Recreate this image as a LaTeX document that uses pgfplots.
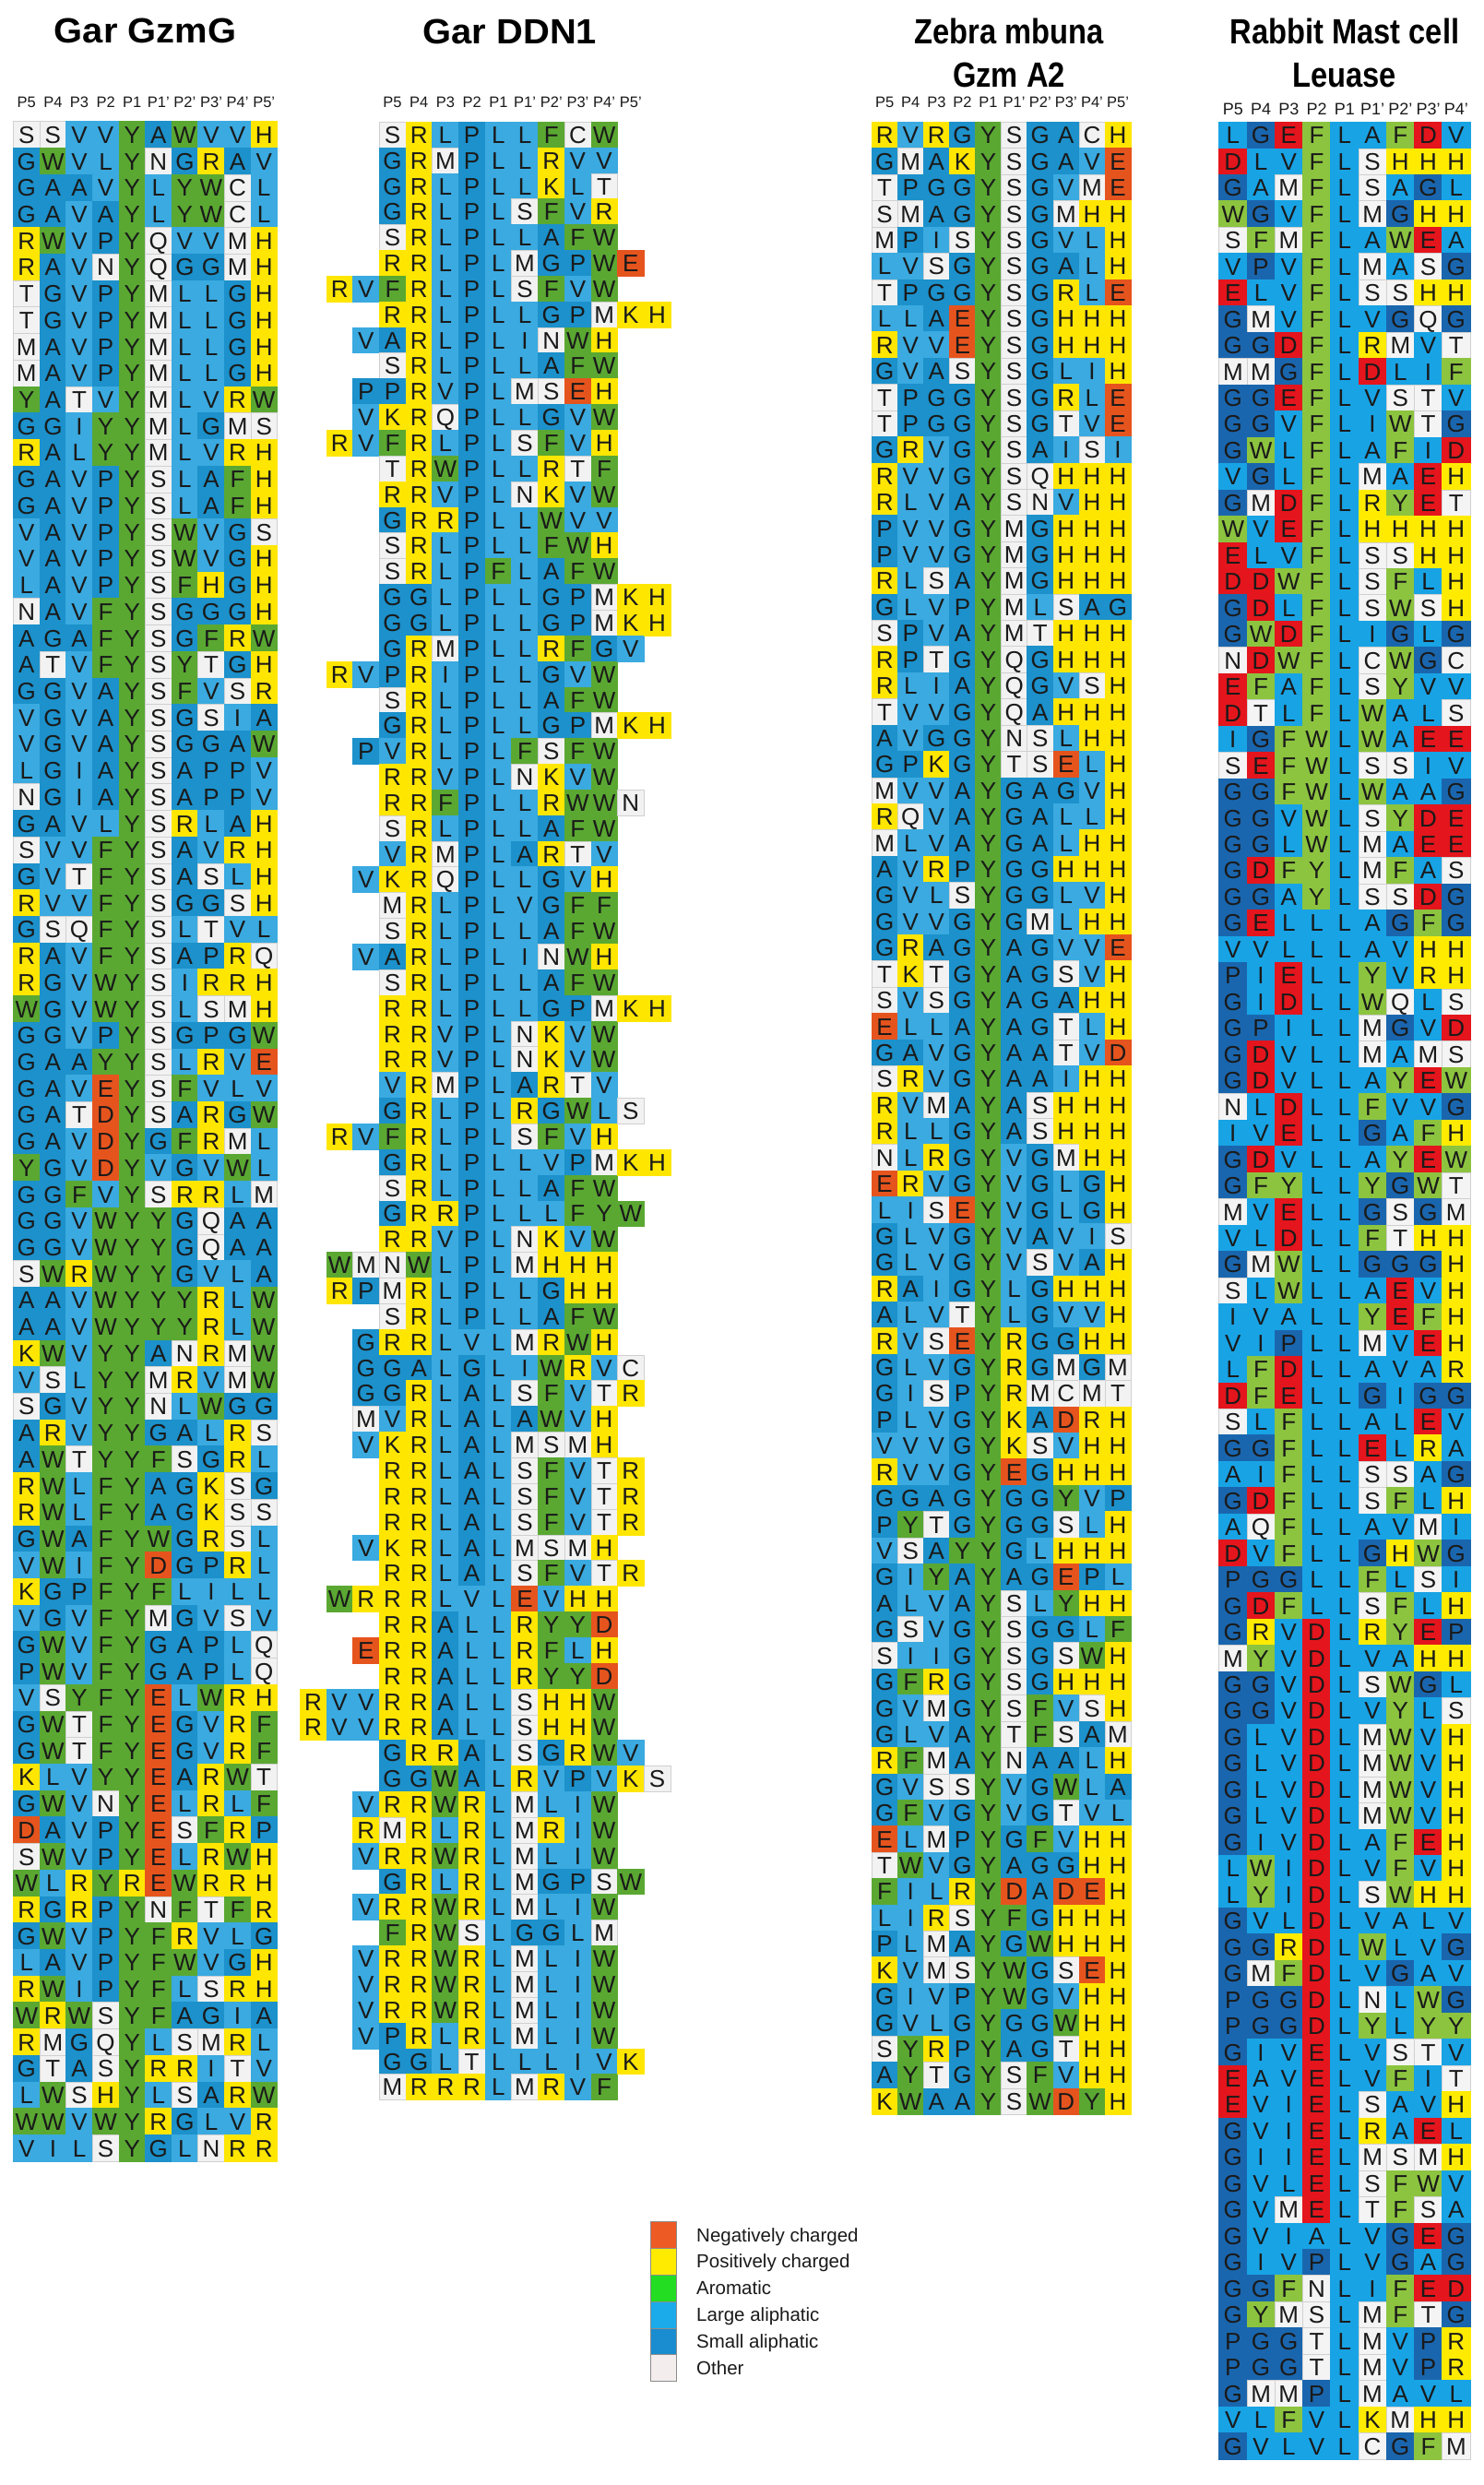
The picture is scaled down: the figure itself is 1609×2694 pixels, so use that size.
\documentclass[border=0pt]{standalone}
\usepackage{pgfplots}
\pgfplotsset{compat=1.18}
\usepackage{pgfplotstable}
\usepackage{graphicx}
\usepackage{fontspec}
\setmainfont{Liberation Sans}

\definecolor{Aneg}{HTML}{E6541E}
\definecolor{Apos}{HTML}{FFE600}
\definecolor{Aaro}{HTML}{5AA832}
\definecolor{Alar}{HTML}{3AAAE0}
\definecolor{Asma}{HTML}{1C91CB}
\definecolor{Aoth}{HTML}{F2F2F2}
\definecolor{Bneg}{HTML}{E4151C}
\definecolor{Bpos}{HTML}{FFEB00}
\definecolor{Baro}{HTML}{8CC43F}
\definecolor{Blar}{HTML}{18A3E5}
\definecolor{Bsma}{HTML}{1A66AE}
\definecolor{Both}{HTML}{F4F4F4}
\definecolor{cellbrd}{HTML}{D0D0D0}
\definecolor{txt}{HTML}{1A1A1A}
\definecolor{Lneg}{HTML}{EE5A24}
\definecolor{Lpos}{HTML}{FFEB00}
\definecolor{Laro}{HTML}{22DD22}
\definecolor{Llar}{HTML}{1CABEA}
\definecolor{Lsma}{HTML}{1A8DD0}
\definecolor{Loth}{HTML}{F3EDED}
\definecolor{Lbrd}{HTML}{8C8C8C}

\pgfdeclareplotmark{cellA}{\pgfpathrectangle{\pgfpoint{-14.3pt}{-14.36pt}}{\pgfpoint{28.6pt}{28.72pt}}\pgfusepathqfillstroke}
\pgfdeclareplotmark{cellB}{\pgfpathrectangle{\pgfpoint{-14.35pt}{-13.925pt}}{\pgfpoint{28.7pt}{27.85pt}}\pgfusepathqfillstroke}
\pgfdeclareplotmark{cellC}{\pgfpathrectangle{\pgfpoint{-14.05pt}{-14.21pt}}{\pgfpoint{28.1pt}{28.42pt}}\pgfusepathqfillstroke}
\pgfdeclareplotmark{cellD}{\pgfpathrectangle{\pgfpoint{-15.125pt}{-14.235pt}}{\pgfpoint{30.25pt}{28.47pt}}\pgfusepathqfillstroke}
\pgfdeclareplotmark{cellL}{\pgfpathrectangle{\pgfpoint{-14.15pt}{-14.45pt}}{\pgfpoint{28.3pt}{28.9pt}}\pgfusepathqfillstroke}
\pgfdeclareplotmark{nomark}{}

\newcommand\cellfont{\fontsize{26}{30}\selectfont}
\newcommand\hdrfont{\fontsize{16.5}{20}\selectfont}
\newcommand\hdrfontD{\fontsize{18}{22}\selectfont}
\newcommand\titlefont{\fontsize{38}{47}\selectfont\bfseries}
\newcommand\legfont{\fontsize{20.5}{24}\selectfont}
\def\cellw{28.6pt}
\newcommand\cc[1]{\makebox[\cellw][c]{\if.#1\else#1\fi}}
\def\spreadi#1{\ifx#1\relax\else\cc{#1}\expandafter\spreadi\fi}
\newcommand\spread[1]{\edef\tmps{#1}\expandafter\spreadi\tmps\relax}

\pgfplotsset{
 aa/.style n args={3}{scatter, only marks, point meta=explicit symbolic, line width=0.5pt,
  scatter/classes={
  D={mark=#1,fill=#2neg,draw=#2neg},E={mark=#1,fill=#2neg,draw=#2neg},
  R={mark=#1,fill=#2pos,draw=#2pos},K={mark=#1,fill=#2pos,draw=#2pos},H={mark=#1,fill=#2pos,draw=#2pos},
  F={mark=#1,fill=#2aro,draw=#2aro},W={mark=#1,fill=#2aro,draw=#2aro},Y={mark=#1,fill=#2aro,draw=#2aro},
  L={mark=#1,fill=#2lar,draw=#2lar},I={mark=#1,fill=#2lar,draw=#2lar},V={mark=#1,fill=#2lar,draw=#2lar},
  A={mark=#1,fill=#3,draw=#3},
  G={mark=#1,fill=#2sma,draw=#2sma},P={mark=#1,fill=#2sma,draw=#2sma},
  S={mark=#1,fill=#2oth,draw=cellbrd},T={mark=#1,fill=#2oth,draw=cellbrd},N={mark=#1,fill=#2oth,draw=cellbrd},
  Q={mark=#1,fill=#2oth,draw=cellbrd},C={mark=#1,fill=#2oth,draw=cellbrd},M={mark=#1,fill=#2oth,draw=cellbrd},
  X={mark=none}}},
 letters/.style={only marks, mark=nomark, point meta=explicit symbolic,
  nodes near coords={\spread{\pgfplotspointmeta}},
  nodes near coords style={anchor=center, inner sep=0pt, font=\cellfont, text=txt, text height=18.6pt, text depth=0pt}},
 panel/.style={scale only axis, clip=false, enlargelimits=false,
  axis x line*=top, axis y line=none, x axis line style={draw=none},
  major tick length=0pt, ytick=\empty,
  xticklabel style={anchor=base, inner sep=0pt, yshift=15.5pt, font=\hdrfont, text=txt},
  every axis title shift=0pt,
  title style={at={(0.5,1)}, anchor=base, yshift=85pt, inner sep=0pt, font=\titlefont, text=black}},
}

\pgfplotstableread{
r c0 c1 c2 c3 c4 c5 c6 c7 c8 c9 s
1 S S V V Y A W V V H SSVVYAWVVH
2 G W V L Y N G R A V GWVLYNGRAV
3 G A A V Y L Y W C L GAAVYLYWCL
4 G A V A Y L Y W C L GAVAYLYWCL
5 R W V P Y Q V V M H RWVPYQVVMH
6 R A V N Y Q G G M H RAVNYQGGMH
7 T G V P Y M L L G H TGVPYMLLGH
8 T G V P Y M L L G H TGVPYMLLGH
9 M A V P Y M L L G H MAVPYMLLGH
10 M A V P Y M L L G H MAVPYMLLGH
11 Y A T V Y M L V R W YATVYMLVRW
12 G G I Y Y M L G M S GGIYYMLGMS
13 R A L Y Y M L V R H RALYYMLVRH
14 G A V P Y S L A F H GAVPYSLAFH
15 G A V P Y S L A F H GAVPYSLAFH
16 V A V P Y S W V G S VAVPYSWVGS
17 V A V P Y S W V G H VAVPYSWVGH
18 L A V P Y S F H G H LAVPYSFHGH
19 N A V F Y S G G G H NAVFYSGGGH
20 A G A F Y S G F R W AGAFYSGFRW
21 A T V F Y S Y T G H ATVFYSYTGH
22 G G V A Y S F V S R GGVAYSFVSR
23 V G V A Y S G S I A VGVAYSGSIA
24 V G V A Y S G G A W VGVAYSGGAW
25 L G I A Y S A P P V LGIAYSAPPV
26 N G I A Y S A P P V NGIAYSAPPV
27 G A V L Y S R L A H GAVLYSRLAH
28 S V V F Y S A V R H SVVFYSAVRH
29 G V T F Y S A S L H GVTFYSASLH
30 R V V F Y S G G S H RVVFYSGGSH
31 G S Q F Y S L T V L GSQFYSLTVL
32 R A V F Y S A P R Q RAVFYSAPRQ
33 R G V W Y S I R R H RGVWYSIRRH
34 W G V W Y S L S M H WGVWYSLSMH
35 G G V P Y S G P G W GGVPYSGPGW
36 G A A Y Y S L R V E GAAYYSLRVE
37 G A V E Y S F V L V GAVEYSFVLV
38 G A T D Y S A R G W GATDYSARGW
39 G A V D Y G F R M L GAVDYGFRML
40 Y G V D Y V G V W L YGVDYVGVWL
41 G G F V Y S R R L M GGFVYSRRLM
42 G G V W Y Y G Q A A GGVWYYGQAA
43 G G V W Y Y G Q A A GGVWYYGQAA
44 S W R W Y Y G V L A SWRWYYGVLA
45 A A V W Y Y Y R L W AAVWYYYRLW
46 A A V W Y Y Y R L W AAVWYYYRLW
47 K W V Y Y A N R M W KWVYYANRMW
48 V S L Y Y M R V M W VSLYYMRVMW
49 S G V Y Y N L W G G SGVYYNLWGG
50 A R V Y Y G A L R S ARVYYGALRS
51 A W T Y Y F S G R L AWTYYFSGRL
52 R W L F Y A G K S G RWLFYAGKSG
53 R W L F Y A G K S S RWLFYAGKSS
54 G W A F Y W G R S L GWAFYWGRSL
55 V W I F Y D G P R L VWIFYDGPRL
56 K G P F Y F L I L L KGPFYFLILL
57 V G V F Y M G V S V VGVFYMGVSV
58 G W V F Y G A P L Q GWVFYGAPLQ
59 P W V F Y G A P L Q PWVFYGAPLQ
60 V S Y F Y E L W R H VSYFYELWRH
61 G W T F Y E G V R F GWTFYEGVRF
62 G W T F Y E G V R F GWTFYEGVRF
63 K L V Y Y E A R W T KLVYYEARWT
64 G W V N Y E L R L F GWVNYELRLF
65 D A V P Y E S F R P DAVPYESFRP
66 S W V P Y E L R W H SWVPYELRWH
67 W L R Y R E W R R H WLRYREWRRH
68 R G R P Y N F T F R RGRPYNFTFR
69 G W V P Y F R V L G GWVPYFRVLG
70 L A V P Y F W V G H LAVPYFWVGH
71 R W I P Y F L S R H RWIPYFLSRH
72 W R W S Y F A G I A WRWSYFAGIA
73 R M G Q Y L S M R L RMGQYLSMRL
74 G T A S Y R R I T V GTASYRRITV
75 L W S H Y L S A R W LWSHYLSARW
76 W W V W Y R G L V R WWVWYRGLVR
77 V I L S Y G L N R R VILSYGLNRR
}\gzmg

\pgfplotstableread{
r a0 a1 a2 a3 a4 a5 a6 a7 a8 a9 a10 a11 a12 a13 s
1 X X X S R L P L L F C W X X ...SRLPLLFCW..
2 X X X G R M P L L R V V X X ...GRMPLLRVV..
3 X X X G R L P L L K L T X X ...GRLPLLKLT..
4 X X X G R L P L S F V R X X ...GRLPLSFVR..
5 X X X S R L P L L A F W X X ...SRLPLLAFW..
6 X X X R R L P L M G P W E X ...RRLPLMGPWE.
7 X R V F R L P L S F V W X X .RVFRLPLSFVW..
8 X X X R R L P L L G P M K H ...RRLPLLGPMKH
9 X X V A R L P L I N W H X X ..VARLPLINWH..
10 X X X S R L P L L A F W X X ...SRLPLLAFW..
11 X X P P R V P L M S E H X X ..PPRVPLMSEH..
12 X X V K R Q P L L G V W X X ..VKRQPLLGVW..
13 X R V F R L P L S F V H X X .RVFRLPLSFVH..
14 X X X T R W P L L R T F X X ...TRWPLLRTF..
15 X X X R R V P L N K V W X X ...RRVPLNKVW..
16 X X X G R R P L L W V V X X ...GRRPLLWVV..
17 X X X S R L P L L F W H X X ...SRLPLLFWH..
18 X X X S R L P F L A F W X X ...SRLPFLAFW..
19 X X X G G L P L L G P M K H ...GGLPLLGPMKH
20 X X X G G L P L L G P M K H ...GGLPLLGPMKH
21 X X X G R M P L L R F G V X ...GRMPLLRFGV.
22 X R V P R I P L L G V W X X .RVPRIPLLGVW..
23 X X X S R L P L L A F W X X ...SRLPLLAFW..
24 X X X G R L P L L G P M K H ...GRLPLLGPMKH
25 X X P V R L P L F S F W X X ..PVRLPLFSFW..
26 X X X R R V P L N K V W X X ...RRVPLNKVW..
27 X X X R R F P L L R W W N X ...RRFPLLRWWN.
28 X X X S R L P L L A F W X X ...SRLPLLAFW..
29 X X X V R M P L A R T V X X ...VRMPLARTV..
30 X X V K R Q P L L G V H X X ..VKRQPLLGVH..
31 X X X M R L P L V G F F X X ...MRLPLVGFF..
32 X X X S R L P L L A F W X X ...SRLPLLAFW..
33 X X V A R L P L I N W H X X ..VARLPLINWH..
34 X X X S R L P L L A F W X X ...SRLPLLAFW..
35 X X X R R L P L L G P M K H ...RRLPLLGPMKH
36 X X X R R V P L N K V W X X ...RRVPLNKVW..
37 X X X R R V P L N K V W X X ...RRVPLNKVW..
38 X X X V R M P L A R T V X X ...VRMPLARTV..
39 X X X G R L P L R G W L S X ...GRLPLRGWLS.
40 X R V F R L P L S F V H X X .RVFRLPLSFVH..
41 X X X G R L P L L V P M K H ...GRLPLLVPMKH
42 X X X S R L P L L A F W X X ...SRLPLLAFW..
43 X X X G R R P L L L F Y W X ...GRRPLLLFYW.
44 X X X R R V P L N K V W X X ...RRVPLNKVW..
45 X W M N W L P L M H H H X X .WMNWLPLMHHH..
46 X R P M R L P L L G H H X X .RPMRLPLLGHH..
47 X X X S R L P L L A F W X X ...SRLPLLAFW..
48 X X G R R L V L M R W H X X ..GRRLVLMRWH..
49 X X G G A L G L I W R V C X ..GGALGLIWRVC.
50 X X G G R L A L S F V T R X ..GGRLALSFVTR.
51 X X M V R L A L A W V H X X ..MVRLALAWVH..
52 X X V K R L A L M S M H X X ..VKRLALMSMH..
53 X X X R R L A L S F V T R X ...RRLALSFVTR.
54 X X X R R L A L S F V T R X ...RRLALSFVTR.
55 X X X R R L A L S F V T R X ...RRLALSFVTR.
56 X X V K R L A L M S M H X X ..VKRLALMSMH..
57 X X X R R L A L S F V T R X ...RRLALSFVTR.
58 X W R R R L V L E V H H X X .WRRRLVLEVHH..
59 X X X R R A L L R Y Y D X X ...RRALLRYYD..
60 X X E R R A L L R F L H X X ..ERRALLRFLH..
61 X X X R R A L L R Y Y D X X ...RRALLRYYD..
62 R V V R R A L L S H H W X X RVVRRALLSHHW..
63 R V V R R A L L S H H W X X RVVRRALLSHHW..
64 X X X G R R A L S G R W V X ...GRRALSGRWV.
65 X X X G G W A L R V P V K S ...GGWALRVPVKS
66 X X V R R W R L M L I W X X ..VRRWRLMLIW..
67 X X R M R L R L M R I W X X ..RMRLRLMRIW..
68 X X V R R W R L M L I W X X ..VRRWRLMLIW..
69 X X X G R L R L M G P S W X ...GRLRLMGPSW.
70 X X V R R W R L M L I W X X ..VRRWRLMLIW..
71 X X X F R W S L G G L M X X ...FRWSLGGLM..
72 X X V R R W R L M L I W X X ..VRRWRLMLIW..
73 X X V R R W R L M L I W X X ..VRRWRLMLIW..
74 X X V R R W R L M L I W X X ..VRRWRLMLIW..
75 X X V P R L R L M L I W X X ..VPRLRLMLIW..
76 X X X G G L T L L L I V K X ...GGLTLLLIVK.
77 X X X M R R R L M R V F X X ...MRRRLMRVF..
}\ddn

\pgfplotstableread{
r c0 c1 c2 c3 c4 c5 c6 c7 c8 c9 s
1 R V R G Y S G A C H RVRGYSGACH
2 G M A K Y S G A V E GMAKYSGAVE
3 T P G G Y S G V M E TPGGYSGVME
4 S M A G Y S G M H H SMAGYSGMHH
5 M P I S Y S G V L H MPISYSGVLH
6 L V S G Y S G A L H LVSGYSGALH
7 T P G G Y S G R L E TPGGYSGRLE
8 L L A E Y S G H H H LLAEYSGHHH
9 R V V E Y S G H H H RVVEYSGHHH
10 G V A S Y S G L I H GVASYSGLIH
11 T P G G Y S G R L E TPGGYSGRLE
12 T P G G Y S G T V E TPGGYSGTVE
13 G R V G Y S A I S I GRVGYSAISI
14 R V V G Y S Q H H H RVVGYSQHHH
15 R L V A Y S N V H H RLVAYSNVHH
16 P V V G Y M G H H H PVVGYMGHHH
17 P V V G Y M G H H H PVVGYMGHHH
18 R L S A Y M G H H H RLSAYMGHHH
19 G L V P Y M L S A G GLVPYMLSAG
20 S P V A Y M T H H H SPVAYMTHHH
21 R P T G Y Q G H H H RPTGYQGHHH
22 R L I A Y Q G V S H RLIAYQGVSH
23 T V V G Y Q A H H H TVVGYQAHHH
24 A V G G Y N S L H H AVGGYNSLHH
25 G P K G Y T S E L H GPKGYTSELH
26 M V V A Y G A G V H MVVAYGAGVH
27 R Q V A Y G A L L H RQVAYGALLH
28 M L V A Y G A L H H MLVAYGALHH
29 A V R P Y G G H H H AVRPYGGHHH
30 G V L S Y G G L V H GVLSYGGLVH
31 G V V G Y G M L H H GVVGYGMLHH
32 G R A G Y A G V V E GRAGYAGVVE
33 T K T G Y A G S V H TKTGYAGSVH
34 S V S G Y A G A H H SVSGYAGAHH
35 E L L A Y A G T L H ELLAYAGTLH
36 G A V G Y A A T V D GAVGYAATVD
37 S R V G Y A A I H H SRVGYAAIHH
38 R V M A Y A S H H H RVMAYASHHH
39 R L L G Y A S H H H RLLGYASHHH
40 N L R G Y V G M H H NLRGYVGMHH
41 E R V G Y V G L G H ERVGYVGLGH
42 L I S E Y V G L G H LISEYVGLGH
43 G L V G Y V A V I S GLVGYVAVIS
44 G L V G Y V S V A H GLVGYVSVAH
45 R A I G Y L G H H H RAIGYLGHHH
46 A L V T Y L G V V H ALVTYLGVVH
47 R V S E Y R G G H H RVSEYRGGHH
48 G L V G Y R G M G M GLVGYRGMGM
49 G I S P Y R M C M T GISPYRMCMT
50 P L V G Y K A D R H PLVGYKADRH
51 V V V G Y K S V H H VVVGYKSVHH
52 R V V G Y E G H H H RVVGYEGHHH
53 G G A G Y G G Y V P GGAGYGGYVP
54 P Y T G Y G G S L H PYTGYGGSLH
55 V S A Y Y G L H H H VSAYYGLHHH
56 G I Y A Y A G E P L GIYAYAGEPL
57 A L V A Y S L Y H H ALVAYSLYHH
58 G S V G Y S G G L F GSVGYSGGLF
59 S I I G Y S G S W H SIIGYSGSWH
60 G F R G Y S G H H H GFRGYSGHHH
61 G V M G Y S F V S H GVMGYSFVSH
62 G L V A Y T F S A M GLVAYTFSAM
63 R F M A Y N A A L H RFMAYNAALH
64 G V S S Y V G W L A GVSSYVGWLA
65 G F V G Y V G T V L GFVGYVGTVL
66 E L M P Y G F V H H ELMPYGFVHH
67 T W V G Y A G G H H TWVGYAGGHH
68 F I L R Y D A D E H FILRYDADEH
69 L I R S Y F G H H H LIRSYFGHHH
70 P L M A Y G W H H H PLMAYGWHHH
71 K V M S Y W G S E H KVMSYWGSEH
72 G I V P Y W G V H H GIVPYWGVHH
73 G V L G Y G G W H H GVLGYGGWHH
74 S Y R P Y A G T H H SYRPYAGTHH
75 A Y T G Y S F V H H AYTGYSFVHH
76 K W A A Y S W D Y H KWAAYSWDYH
}\zebra

\pgfplotstableread{
r c0 c1 c2 c3 c4 c5 c6 c7 c8 s
1 L G E F L A F D V LGEFLAFDV
2 D L V F L S H H H DLVFLSHHH
3 G A M F L S A G L GAMFLSAGL
4 W G V F L M G H H WGVFLMGHH
5 S F M F L A W E A SFMFLAWEA
6 V P V F L M A S G VPVFLMASG
7 E L V F L S S H H ELVFLSSHH
8 G M V F L V G Q G GMVFLVGQG
9 G G D F L R M V T GGDFLRMVT
10 M M G F L D L I F MMGFLDLIF
11 G G E F L V S T V GGEFLVSTV
12 G G V F L I W T G GGVFLIWTG
13 G W L F L A F I D GWLFLAFID
14 V G L F L M A E H VGLFLMAEH
15 G M D F L R Y E T GMDFLRYET
16 W V E F L H H H H WVEFLHHHH
17 E L V F L S S H H ELVFLSSHH
18 D D W F L S F L H DDWFLSFLH
19 G D L F L S W S H GDLFLSWSH
20 G W D F L I G L G GWDFLIGLG
21 N D W F L C W G C NDWFLCWGC
22 E F A F L S Y V V EFAFLSYVV
23 D T L F L W A L S DTLFLWALS
24 I G F W L W A E E IGFWLWAEE
25 S E F W L S S I V SEFWLSSIV
26 G G F W L W A A G GGFWLWAAG
27 G G V W L S Y D E GGVWLSYDE
28 G G L W L M A E E GGLWLMAEE
29 G D F Y L M F A S GDFYLMFAS
30 G G A Y L S S D G GGAYLSSDG
31 G E L L L A G F G GELLLAGFG
32 V V L L L A V H H VVLLLAVHH
33 P I E L L Y V R H PIELLYVRH
34 G I D L L W Q L S GIDLLWQLS
35 G P I L L M G V D GPILLMGVD
36 G D V L L M A M S GDVLLMAMS
37 G D V L L A Y E W GDVLLAYEW
38 N L D L L F V V G NLDLLFVVG
39 I V E L L G A F H IVELLGAFH
40 G D V L L A Y E W GDVLLAYEW
41 G F Y L L Y G W T GFYLLYGWT
42 M V E L L G S G M MVELLGSGM
43 V L D L L F T H H VLDLLFTHH
44 G M W L L G G G H GMWLLGGGH
45 S L W L L A E V H SLWLLAEVH
46 I V A L L Y E F H IVALLYEFH
47 V I P L L M V E H VIPLLMVEH
48 L F D L L A V A R LFDLLAVAR
49 D F E L L G I G G DFELLGIGG
50 S L F L L A L E V SLFLLALEV
51 G G F L L E L R A GGFLLELRA
52 A I F L L S S A G AIFLLSSAG
53 G D F L L S F L H GDFLLSFLH
54 A Q F L L A V M I AQFLLAVMI
55 D V F L L G H W G DVFLLGHWG
56 P G G L L F L S I PGGLLFLSI
57 G D F L L S F L H GDFLLSFLH
58 G R V D L R Y E P GRVDLRYEP
59 M Y V D L V A H H MYVDLVAHH
60 G G V D L S W G L GGVDLSWGL
61 G G V D L V Y L S GGVDLVYLS
62 G L V D L M W V H GLVDLMWVH
63 G L V D L M W V H GLVDLMWVH
64 G L V D L M W V H GLVDLMWVH
65 G L V D L M W V H GLVDLMWVH
66 G I V D L A F E H GIVDLAFEH
67 L W I D L V F V H LWIDLVFVH
68 L Y I D L S W H H LYIDLSWHH
69 G V L D L V A L V GVLDLVALV
70 G G R D L W L V G GGRDLWLVG
71 G M F D L V G A V GMFDLVGAV
72 P G G D L N L W G PGGDLNLWG
73 P G G D L Y L Y Y PGGDLYLYY
74 G I V E L V S T V GIVELVSTV
75 E A V E L V F I T EAVELVFIT
76 E V I E L S A V H EVIELSAVH
77 G V I E L R A E L GVIELRAEL
78 G I I E L M S M H GIIELMSMH
79 G V L E L S F W V GVLELSFWV
80 G V M E L T F S A GVMELTFSA
81 G V I A L V G E G GVIALVGEG
82 G I V P L V G A G GIVPLVGAG
83 G G F N L I F E D GGFNLIFED
84 G Y M S L M F T G GYMSLMFTG
85 P G G T L M V P R PGGTLMVPR
86 P G G T L M V P R PGGTLMVPR
87 G M M P L M A V L GMMPLMAVL
88 V L F V L K M H H VLFVLKMHH
89 G V L V L C G F M GVLVLCGFM
}\rabbit

\begin{document}
\begin{tikzpicture}
\useasboundingbox (0pt,0pt) rectangle (1609pt,-2694pt);

% Panel 1: Gar GzmG
\def\cellw{28.6pt}
\begin{axis}[panel, at={(14.5pt,-131.7pt)}, anchor=north west,
  width=286pt, height=2211.4pt, xmin=-0.5, xmax=9.5, ymin=-77.5, ymax=-0.5,
  xtick={0,...,9}, xticklabels={P5,P4,P3,P2,P1,P1',P2',P3',P4',P5'},
  title={\scalebox{1.05}[1]{Gar GzmG}}]
\pgfplotsinvokeforeach{0,...,9}{
  \addplot[aa={cellA}{A}{Asma}] table[x expr=#1, y expr=-\thisrow{r}, meta=c#1]{\gzmg};
}
\addplot[letters] table[x expr=4.5, y expr=-\thisrow{r}, meta=s]{\gzmg};
\end{axis}

% Panel 2: Gar DDN1
\def\cellw{28.7pt}
\begin{axis}[panel, at={(325.1pt,-132.1pt)}, anchor=north west,
  width=401.8pt, height=2144.45pt, xmin=-3.5, xmax=10.5, ymin=-77.5, ymax=-0.5,
  xtick={0,...,9}, xticklabels={P5,P4,P3,P2,P1,P1',P2',P3',P4',P5'},
  title style={at={(0.567,1)}},
  title={\scalebox{1.05}[1]{Gar DDN1}}]
\pgfplotsinvokeforeach{0,...,13}{
  \addplot[aa={cellB}{A}{Asma}] table[x expr=#1-3, y expr=-\thisrow{r}, meta=a#1]{\ddn};
}
\addplot[letters] table[x expr=3.5, y expr=-\thisrow{r}, meta=s]{\ddn};
\end{axis}

% Panel 3: Zebra mbuna Gzm A2
\def\cellw{28.1pt}
\begin{axis}[panel, at={(945.1pt,-132.3pt)}, anchor=north west,
  width=281pt, height=2159.9pt, xmin=-0.5, xmax=9.5, ymin=-76.5, ymax=-0.5,
  xtick={0,...,9}, xticklabels={P5,P4,P3,P2,P1,P1',P2',P3',P4',P5'},
  title style={at={(0.53,1)}},
  title={\scalebox{0.86}[1]{\begin{tabular}[t]{@{}c@{}}Zebra mbuna\\Gzm A2\end{tabular}}}]
\pgfplotsinvokeforeach{0,...,9}{
  \addplot[aa={cellC}{A}{Asma}] table[x expr=#1, y expr=-\thisrow{r}, meta=c#1]{\zebra};
}
\addplot[letters] table[x expr=4.5, y expr=-\thisrow{r}, meta=s]{\zebra};
\end{axis}

% Panel 4: Rabbit Mast cell Leuase
\def\cellw{30.25pt}
\begin{axis}[panel, at={(1321.7pt,-132.3pt)}, anchor=north west,
  width=272.25pt, height=2533.8pt, xmin=-0.5, xmax=8.5, ymin=-89.5, ymax=-0.5,
  xtick={0,...,8}, xticklabels={P5,P4,P3,P2,P1,P1',P2',P3',P4'},
  xticklabel style={yshift=-7.5pt, font=\hdrfontD},
  title={\scalebox{0.86}[1]{\begin{tabular}[t]{@{}c@{}}Rabbit Mast cell\\Leuase\end{tabular}}}]
\pgfplotsinvokeforeach{0,...,8}{
  \addplot[aa={cellD}{B}{Blar}] table[x expr=#1, y expr=-\thisrow{r}, meta=c#1]{\rabbit};
}
\addplot[letters] table[x expr=4, y expr=-\thisrow{r}, meta=s]{\rabbit};
\end{axis}

% Legend
\begin{axis}[scale only axis, clip=false, enlargelimits=false,
  at={(705pt,-2408.3pt)}, anchor=north west, width=28.3pt, height=173.4pt,
  xmin=-0.5, xmax=0.5, ymin=-6.5, ymax=-0.5,
  axis x line=none, axis y line*=right, y axis line style={draw=none},
  major tick length=0pt, xtick=\empty, ytick={-6,-5,-4,-3,-2,-1},
  yticklabels={Other,Small aliphatic,Large aliphatic,Aromatic,Positively charged,Negatively charged},
  yticklabel style={anchor=base west, inner sep=0pt, xshift=21.7pt, yshift=-7.3pt, font=\legfont, text=txt}]
\addplot[scatter, only marks, point meta=explicit symbolic, line width=0.8pt,
  scatter/classes={n={mark=cellL,fill=Lneg,draw=Lbrd}, p={mark=cellL,fill=Lpos,draw=Lbrd},
    a={mark=cellL,fill=Laro,draw=Lbrd}, l={mark=cellL,fill=Llar,draw=Lbrd},
    s={mark=cellL,fill=Lsma,draw=Lbrd}, o={mark=cellL,fill=Loth,draw=Lbrd}}]
  table[x=x, y=y, meta=c]{
x y c
0 -1 n
0 -2 p
0 -3 a
0 -4 l
0 -5 s
0 -6 o
};
\end{axis}
\end{tikzpicture}
\end{document}
